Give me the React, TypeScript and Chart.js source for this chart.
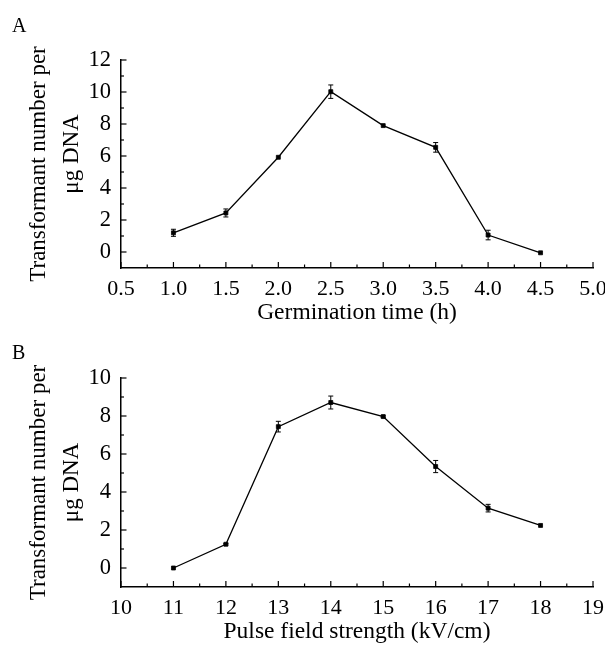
import React, { useEffect, useRef } from 'react';
import { Chart, registerables } from 'chart.js';

Chart.register(...registerables);

const FONT = '"Liberation Serif", "Times New Roman", serif';

// Panel A: germination time
const germTime = [1.0, 1.5, 2.0, 2.5, 3.0, 3.5, 4.0, 4.5];
const germValues = [1.2, 2.44, 5.92, 10.02, 7.9, 6.54, 1.06, -0.05];
const germErrors = [0.22, 0.25, 0, 0.42, 0, 0.3, 0.3, 0];
const germXTicks = [0.5, 1.0, 1.5, 2.0, 2.5, 3.0, 3.5, 4.0, 4.5, 5.0];
const germYTicks = [0, 2, 4, 6, 8, 10, 12];

// Panel B: pulse field strength
const pulseStrength = [11, 12, 13, 14, 15, 16, 17, 18];
const pulseValues = [0.0, 1.25, 7.44, 8.71, 7.97, 5.34, 3.15, 2.24];
const pulseErrors = [0, 0.04, 0.28, 0.34, 0.04, 0.32, 0.2, 0];
const pulseXTicks = [10, 11, 12, 13, 14, 15, 16, 17, 18, 19];
const pulseYTicks = [0, 2, 4, 6, 8, 10];

const yTitleLines = ['Transformant number per', 'μg DNA'];

const decorPlugin = {
  id: 'panelDecor',
  afterDatasetsDraw(chart: any, _args: any, opts: any) {
    const ctx = chart.ctx as CanvasRenderingContext2D;
    const xs = chart.scales.x;
    const ys = chart.scales.y;
    const area = chart.chartArea;
    ctx.save();
    ctx.strokeStyle = '#000';
    ctx.fillStyle = '#000';
    ctx.lineWidth = 1.2;
    const seg = (x1: number, y1: number, x2: number, y2: number) => {
      ctx.beginPath();
      ctx.moveTo(x1, y1);
      ctx.lineTo(x2, y2);
      ctx.stroke();
    };
    // inward tick marks (major + minor)
    const xt: number[] = opts.xTicks;
    for (let i = 0; i < xt.length; i++) {
      const px = xs.getPixelForValue(xt[i]);
      seg(px, area.bottom, px, area.bottom - 6);
      if (i < xt.length - 1) {
        const mx = xs.getPixelForValue((xt[i] + xt[i + 1]) / 2);
        seg(mx, area.bottom, mx, area.bottom - 3.5);
      }
    }
    const yt: number[] = opts.yTicks;
    for (let i = 0; i < yt.length; i++) {
      const py = ys.getPixelForValue(yt[i]);
      seg(area.left, py, area.left + 5.5, py);
      if (i < yt.length - 1) {
        const my = ys.getPixelForValue((yt[i] + yt[i + 1]) / 2);
        seg(area.left, my, area.left + 3, my);
      }
    }
    // error bars
    ctx.lineWidth = 1;
    const xv: number[] = opts.xVals;
    const yv: number[] = opts.yVals;
    const ev: number[] = opts.errs;
    for (let i = 0; i < xv.length; i++) {
      if (!ev[i]) continue;
      const px = xs.getPixelForValue(xv[i]);
      const top = ys.getPixelForValue(yv[i] + ev[i]);
      const bot = ys.getPixelForValue(yv[i] - ev[i]);
      seg(px, top, px, bot);
      seg(px - 2.5, top, px + 2.5, top);
      seg(px - 2.5, bot, px + 2.5, bot);
    }
    // y axis title (two lines)
    const cy = (area.top + area.bottom) / 2;
    ctx.translate(38.5, cy);
    ctx.rotate(-Math.PI / 2);
    ctx.font = `23px ${FONT}`;
    ctx.textAlign = 'center';
    ctx.textBaseline = 'middle';
    ctx.fillText(yTitleLines[0], 0, 0);
    ctx.fillText(yTitleLines[1], opts.line2Shift, 33);
    ctx.restore();
    // panel label
    ctx.save();
    ctx.fillStyle = '#000';
    ctx.font = `20px ${FONT}`;
    ctx.textAlign = 'left';
    ctx.textBaseline = 'alphabetic';
    ctx.fillText(opts.label, 12, opts.labelY);
    ctx.restore();
  },
};

type PanelProps = {
  label: string;
  labelY: number;
  xVals: number[];
  yVals: number[];
  errs: number[];
  xTicks: number[];
  yTicks: number[];
  xMin: number;
  xMax: number;
  yMin: number;
  yMax: number;
  xDecimals: number;
  xTitle: string;
  height: number;
  padTop: number;
  line2Shift: number;
};

function Panel(p: PanelProps) {
  const ref = useRef<HTMLCanvasElement | null>(null);
  useEffect(() => {
    if (!ref.current) return;
    const chart = new Chart(ref.current, {
      type: 'line',
      data: {
        datasets: [
          {
            data: p.xVals.map((x, i) => ({ x, y: p.yVals[i] })),
            borderColor: '#000',
            borderWidth: 1.3,
            pointStyle: 'rect',
            pointRadius: 2.8,
            pointBackgroundColor: '#000',
            pointBorderColor: '#000',
            pointBorderWidth: 0.8,
            tension: 0,
            fill: false,
          } as any,
        ],
      },
      options: {
        responsive: false,
        animation: false,
        events: [],
        layout: { padding: { top: p.padTop, right: 12, bottom: 0, left: 0 } },
        plugins: {
          legend: { display: false },
          tooltip: { enabled: false },
          panelDecor: {
            label: p.label,
            labelY: p.labelY,
            xTicks: p.xTicks,
            yTicks: p.yTicks,
            xVals: p.xVals,
            yVals: p.yVals,
            errs: p.errs,
            line2Shift: p.line2Shift,
          },
        } as any,
        scales: {
          x: {
            type: 'linear',
            min: p.xMin,
            max: p.xMax,
            afterBuildTicks: (s: any) => {
              s.ticks = p.xTicks.map((v) => ({ value: v }));
            },
            afterFit: (s: any) => {
              s.height = 62;
              s.paddingLeft = 0;
              s.paddingRight = 0;
            },
            grid: { display: false, drawTicks: false },
            border: { display: true, color: '#000', width: 1.5 },
            ticks: {
              font: { family: FONT, size: 22 },
              color: '#000',
              padding: 8,
              maxRotation: 0,
              autoSkip: false,
              callback: (v: any) => Number(v).toFixed(p.xDecimals),
            },
            title: {
              display: true,
              text: p.xTitle,
              font: { family: FONT, size: 23.5 },
              color: '#000',
              padding: { top: 0, bottom: 3 },
            },
          },
          y: {
            type: 'linear',
            min: p.yMin,
            max: p.yMax,
            afterBuildTicks: (s: any) => {
              s.ticks = p.yTicks.map((v) => ({ value: v }));
            },
            afterFit: (s: any) => {
              s.width = 121;
            },
            grid: { display: false, drawTicks: false },
            border: { display: true, color: '#000', width: 1.5 },
            ticks: {
              font: { family: FONT, size: 22.5 },
              color: '#000',
              padding: 10,
              autoSkip: false,
              callback: (v: any) => String(v),
            },
          },
        } as any,
      },
      plugins: [decorPlugin],
    });
    return () => chart.destroy();
  }, []);
  return <canvas ref={ref} width={605} height={p.height} style={{ display: 'block', width: 605, height: p.height }} />;
}

export default function App() {
  return (
    <div style={{ position: 'absolute', left: 0, top: 0, width: 605, height: 649, background: '#fff' }}>
      <Panel
        label="A"
        labelY={32}
        xVals={germTime}
        yVals={germValues}
        errs={germErrors}
        xTicks={germXTicks}
        yTicks={germYTicks}
        xMin={0.5}
        xMax={5.0}
        yMin={-1}
        yMax={12}
        xDecimals={1}
        xTitle="Germination time (h)"
        height={330}
        padTop={60}
        line2Shift={10}
      />
      <Panel
        label="B"
        labelY={29}
        xVals={pulseStrength}
        yVals={pulseValues}
        errs={pulseErrors}
        xTicks={pulseXTicks}
        yTicks={pulseYTicks}
        xMin={10}
        xMax={19}
        yMin={-1}
        yMax={10}
        xDecimals={0}
        xTitle="Pulse field strength (kV/cm)"
        height={319}
        padTop={48}
        line2Shift={0}
      />
    </div>
  );
}
